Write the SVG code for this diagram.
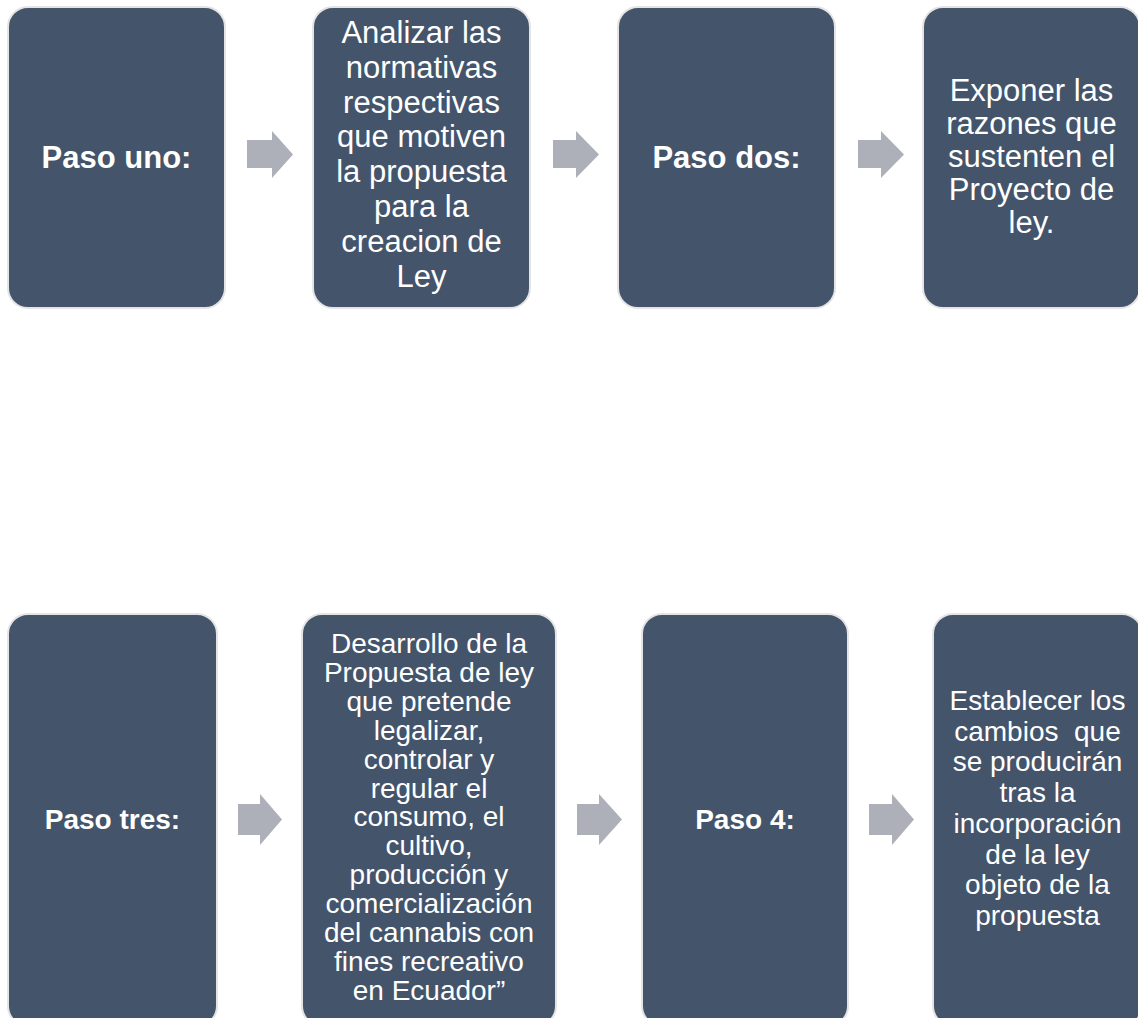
<svg xmlns="http://www.w3.org/2000/svg" width="1138" height="1018" viewBox="0 0 1138 1018">
<style>
.box{fill:#44546A;stroke:#E4E4E4;stroke-width:2}
.arrow{fill:#ADB0B8}
text{font-family:"Liberation Sans",Arial,sans-serif;fill:#FFFFFF;text-anchor:middle;white-space:pre}
.t{font-size:31px}
.b{font-size:31px;font-weight:bold}
.t2{font-size:28px}
.b2{font-size:28px;font-weight:bold}
</style>
<rect width="1138" height="1018" fill="#FFFFFF"/>
<g id="connectors">
<path class="arrow" d="M247 140 H272 V131 L293 154.5 L272 178 V168 H247 Z"/>
<path class="arrow" d="M553 140 H576 V131 L599 154.5 L576 178 V168 H553 Z"/>
<path class="arrow" d="M858 140 H881 V131 L904 154.5 L881 178 V168 H858 Z"/>
<path class="arrow" d="M238 804 H260 V794 L282 819.5 L260 845 V835 H238 Z"/>
<path class="arrow" d="M577 804 H599 V794 L622 819.5 L599 845 V835 H577 Z"/>
<path class="arrow" d="M869 804 H892 V794 L914 819.5 L892 845 V835 H869 Z"/>
</g>
<g id="paso-uno">
<rect class="box" x="8" y="7" width="217" height="301" rx="20"/>
<text class="b" x="116.5" y="168">Paso uno:</text>
</g>
<g id="analizar">
<rect class="box" x="313" y="7" width="217" height="301" rx="20"/>
<text class="t" x="421.5" y="43">Analizar las</text>
<text class="t" x="421.5" y="77.8">normativas</text>
<text class="t" x="421.5" y="112.6">respectivas</text>
<text class="t" x="421.5" y="147.4">que motiven</text>
<text class="t" x="421.5" y="182.2">la propuesta</text>
<text class="t" x="421.5" y="217">para la</text>
<text class="t" x="421.5" y="251.8">creacion de</text>
<text class="t" x="421.5" y="286.6">Ley</text>
</g>
<g id="paso-dos">
<rect class="box" x="618" y="7" width="217" height="301" rx="20"/>
<text class="b" x="726.5" y="168">Paso dos:</text>
</g>
<g id="exponer">
<rect class="box" x="923" y="7" width="217" height="301" rx="20"/>
<text class="t" x="1031.5" y="101">Exponer las</text>
<text class="t" x="1031.5" y="134">razones que</text>
<text class="t" x="1031.5" y="167">sustenten el</text>
<text class="t" x="1031.5" y="200">Proyecto de</text>
<text class="t" x="1031.5" y="233">ley.</text>
</g>
<g id="paso-tres">
<rect class="box" x="8" y="614" width="209" height="412" rx="20"/>
<text class="b2" x="112.5" y="829">Paso tres:</text>
</g>
<g id="desarrollo">
<rect class="box" x="302" y="614" width="254" height="412" rx="20"/>
<text class="t2" x="429" y="653">Desarrollo de la</text>
<text class="t2" x="429" y="681.9">Propuesta de ley</text>
<text class="t2" x="429" y="710.8">que pretende</text>
<text class="t2" x="429" y="739.7">legalizar,</text>
<text class="t2" x="429" y="768.6">controlar y</text>
<text class="t2" x="429" y="797.5">regular el</text>
<text class="t2" x="429" y="826.4">consumo, el</text>
<text class="t2" x="429" y="855.3">cultivo,</text>
<text class="t2" x="429" y="884.2">producción y</text>
<text class="t2" x="429" y="913.1">comercialización</text>
<text class="t2" x="429" y="942">del cannabis con</text>
<text class="t2" x="429" y="970.9">fines recreativo</text>
<text class="t2" x="429" y="999.8">en Ecuador”</text>
</g>
<g id="paso-4">
<rect class="box" x="642" y="614" width="206" height="412" rx="20"/>
<text class="b2" x="745" y="829">Paso 4:</text>
</g>
<g id="establecer">
<rect class="box" x="933" y="614" width="209" height="412" rx="20"/>
<text class="t2" x="1037.5" y="710">Establecer los</text>
<text class="t2" x="1037.5" y="740.7">cambios  que</text>
<text class="t2" x="1037.5" y="771.4">se producirán</text>
<text class="t2" x="1037.5" y="802.1">tras la</text>
<text class="t2" x="1037.5" y="832.8">incorporación</text>
<text class="t2" x="1037.5" y="863.5">de la ley</text>
<text class="t2" x="1037.5" y="894.2">objeto de la</text>
<text class="t2" x="1037.5" y="925">propuesta</text>
</g>
</svg>
